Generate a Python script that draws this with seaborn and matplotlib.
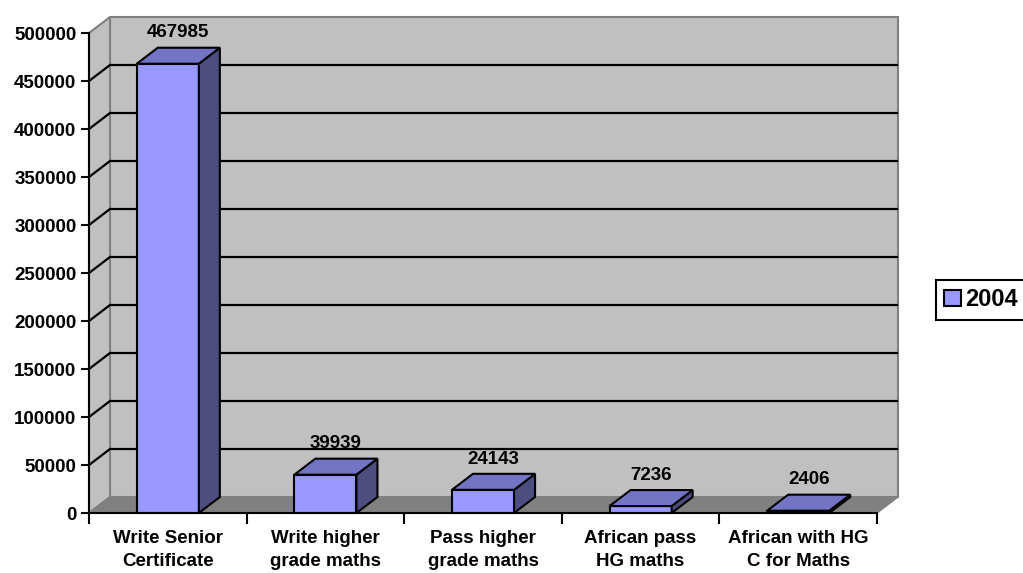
import numpy as np
import pandas as pd
import matplotlib
matplotlib.use("Agg")
import matplotlib.pyplot as plt
import seaborn as sns
from matplotlib.patches import Polygon, Patch, Rectangle

# Data
categories = [
    "Write Senior Certificate",
    "Write higher grade maths",
    "Pass higher grade maths",
    "African pass HG maths",
    "African with HG C for Maths",
]
tick_labels = [
    "Write Senior\nCertificate",
    "Write higher\ngrade maths",
    "Pass higher\ngrade maths",
    "African pass\nHG maths",
    "African with HG\nC for Maths",
]
values_2004 = [467985, 39939, 24143, 7236, 2406]
series_name = "2004"
y_ticks = list(range(0, 500001, 50000))

# Styling
FRONT = "#9999FF"
TOP = "#7474C4"
SIDE = "#4D4D80"
WALL = "#C0C0C0"
FLOOR = "#808080"
EDGE = "#808080"

sns.set_theme(style="white")
plt.rcParams["font.family"] = ["Liberation Sans", "DejaVu Sans"]
plt.rcParams["font.weight"] = "bold"
plt.rcParams["text.color"] = "black"
plt.rcParams["xtick.color"] = "black"
plt.rcParams["ytick.color"] = "black"
plt.rcParams["axes.labelcolor"] = "black"

df = pd.DataFrame({"category": categories, "count": values_2004, "year": series_name})

W, H = 1023, 573
fig = plt.figure(figsize=(W / 100, H / 100), dpi=100)
ax = fig.add_axes([89 / W, 60 / H, 809 / W, 496 / H])

sns.barplot(data=df, x="category", y="count", hue="year",
            palette={series_name: FRONT}, width=0.394, ax=ax,
            edgecolor="black", linewidth=1.5, saturation=1, legend=False)
bars = [p for p in ax.patches if isinstance(p, Rectangle)]

# depth of the 3-D box, in data units
n = len(categories)
ymax = y_ticks[-1]
ddx = 21 / 157.6
ddy = 16 / (480 / ymax)
x0, x1 = -0.5, n - 0.5
ax.set_xlim(x0, x1 + ddx)
ax.set_ylim(0, ymax + ddy)

# walls and floor
back_wall = Polygon([(x0 + ddx, ddy), (x1 + ddx, ddy), (x1 + ddx, ymax + ddy), (x0 + ddx, ymax + ddy)],
                    closed=True, facecolor=WALL, edgecolor=EDGE, lw=1.5, zorder=0.5, clip_on=False)
left_wall = Polygon([(x0, 0), (x0 + ddx, ddy), (x0 + ddx, ymax + ddy), (x0, ymax)],
                    closed=True, facecolor=WALL, edgecolor=EDGE, lw=1.5, zorder=0.5, clip_on=False)
floor = Polygon([(x0, 0), (x0 + ddx, ddy), (x1 + ddx, ddy), (x1, 0)],
                closed=True, facecolor=FLOOR, edgecolor=EDGE, lw=1.0, zorder=0.6, clip_on=False)
for p in (back_wall, left_wall, floor):
    ax.add_patch(p)

# gridlines on back and left walls
for v in y_ticks[1:-1]:
    ax.plot([x0 + ddx, x1 + ddx], [v + ddy, v + ddy], color="black", lw=1.6, zorder=0.8,
            clip_on=False, solid_capstyle="butt")
    ax.plot([x0, x0 + ddx], [v, v + ddy], color="black", lw=1.6, zorder=0.8, clip_on=False)

# 3-D bar faces
for p, v in zip(bars, values_2004):
    bx, bw, bh = p.get_x(), p.get_width(), p.get_height()
    p.set_zorder(3)
    p.set_clip_on(False)
    top = Polygon([(bx, bh), (bx + ddx, bh + ddy), (bx + bw + ddx, bh + ddy), (bx + bw, bh)],
                  closed=True, facecolor=TOP, edgecolor="black", lw=1.5, zorder=3, clip_on=False)
    side = Polygon([(bx + bw, 0), (bx + bw + ddx, ddy), (bx + bw + ddx, bh + ddy), (bx + bw, bh)],
                   closed=True, facecolor=SIDE, edgecolor="black", lw=1.5, zorder=3, clip_on=False)
    ax.add_patch(side)
    ax.add_patch(top)
    ax.annotate(f"{v}", xy=(bx + bw / 2 + ddx / 2, v + ddy), xytext=(0, 4.5),
                textcoords="offset points", ha="center", va="bottom",
                fontsize=13.5, fontweight="bold", color="black", zorder=5)

# axes lines and ticks
for s in ("top", "right"):
    ax.spines[s].set_visible(False)
for s in ("left", "bottom"):
    ax.spines[s].set_color("black")
    ax.spines[s].set_linewidth(1.5)
    ax.spines[s].set_zorder(4)
ax.spines["left"].set_bounds(0, ymax)
ax.spines["bottom"].set_bounds(x0, x1)

ax.set_yticks(y_ticks)
ax.set_yticklabels([str(t) for t in y_ticks])
ax.tick_params(axis="y", which="major", length=6, width=1.5, color="black",
               direction="out", pad=3, labelsize=13.5, left=True, labelcolor="black")

ax.set_xticks(range(n))
ax.set_xticklabels(tick_labels, linespacing=1.45)
ax.set_xticks(np.arange(x0, x1 + 0.01, 1.0), minor=True)
ax.tick_params(axis="x", which="major", length=0, pad=12.5, labelsize=13.5, labelcolor="black")
ax.tick_params(axis="x", which="minor", length=8, width=1.5, color="black",
               direction="out", bottom=True)
for lbl in ax.get_xticklabels() + ax.get_yticklabels():
    lbl.set_fontweight("bold")
ax.set_xlabel("")
ax.set_ylabel("")
ax.grid(False)
ax.patch.set_visible(False)

# legend
leg = fig.legend(handles=[Patch(facecolor=FRONT, edgecolor="black", linewidth=1.5, label=series_name)],
                 loc="upper left", bbox_to_anchor=(936 / W, 1 - 280 / H),
                 prop={"size": 17, "weight": "bold"}, frameon=True, fancybox=False,
                 handlelength=0.7, handleheight=0.7, handletextpad=0.2,
                 borderpad=0.35, borderaxespad=0)
leg.get_frame().set_edgecolor("black")
leg.get_frame().set_linewidth(1.5)
leg.get_frame().set_alpha(1)

fig.savefig("out.png", dpi=100)
